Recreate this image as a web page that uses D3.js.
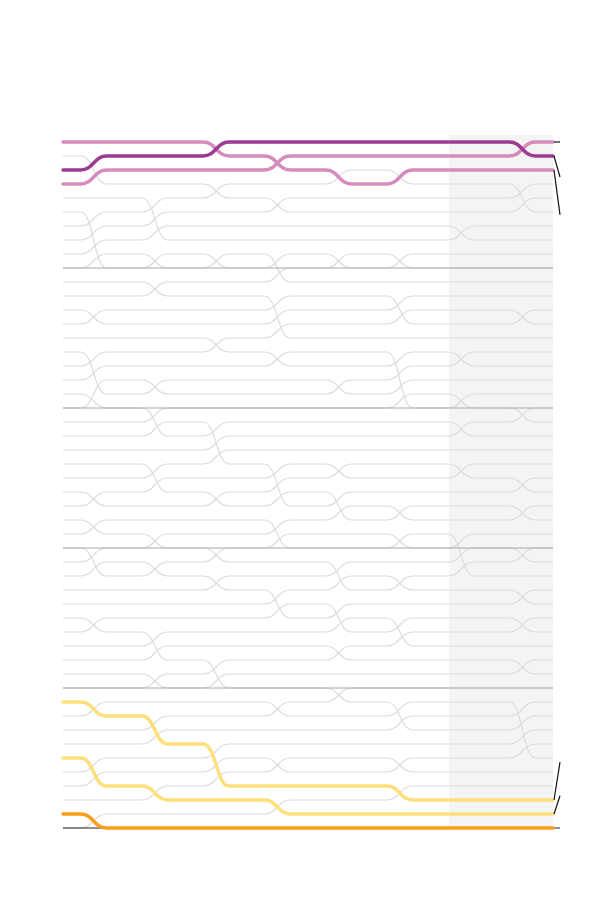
<!DOCTYPE html>
<html><head><meta charset="utf-8">
<script src="https://cdn.jsdelivr.net/npm/d3@7"></script>
<style>body{margin:0;background:#fff}</style></head>
<body><div id="c"></div>
<script>
const periods = [0,1,2,3,4,5,6,7,8];
const nRanks = 50;
// adjacent-position swaps observed at each transition (upper position, applied in order)
const swaps0 = [[2,3],[3,4],[6,7],[7,8],[8,9],[9,10],[13,14],[16,17],[17,18],[19,20],[18,19],[26,27],[28,29],[30,31],[31,32],[35,36],[41,42],[45,46],[46,47],[49,50]];
const swaps1 = [[5,6],[6,7],[7,8],[9,10],[11,12],[18,19],[20,21],[21,22],[24,25],[25,26],[29,30],[31,32],[36,37],[37,38],[39,40],[42,43],[43,44],[47,48]];
const swaps2 = [[1,2],[4,5],[9,10],[15,16],[21,22],[22,23],[23,24],[26,27],[30,31],[32,33],[38,39],[39,40],[44,45],[45,46],[46,47]];
const swaps3 = [[2,3],[5,6],[9,10],[10,11],[12,13],[13,14],[14,15],[16,17],[24,25],[25,26],[26,27],[28,29],[29,30],[33,34],[34,35],[41,42],[45,46],[48,49]];
const swaps4 = [[3,4],[9,10],[18,19],[24,25],[26,27],[27,28],[31,32],[32,33],[34,35],[35,36],[37,38],[40,41]];
const swaps5 = [[3,4],[9,10],[12,13],[13,14],[16,17],[17,18],[18,19],[19,20],[27,28],[29,30],[32,33],[35,36],[36,37],[41,42],[42,43],[45,46],[47,48]];
const swaps6 = [[7,8],[16,17],[19,20],[21,22],[24,25],[29,30],[30,31],[31,32]];
const swaps7 = [[1,2],[4,5],[5,6],[13,14],[20,21],[25,26],[27,28],[30,31],[33,34],[35,36],[38,39],[41,42],[42,43],[43,44],[44,45]];
const swapLists = [swaps0,swaps1,swaps2,swaps3,swaps4,swaps5,swaps6,swaps7];
// highlighted series, identified by starting rank
const highlightIds = [1,4,3,41,45,49];
const highlightColors = ["#d68bbd","#d68bbd","#9c3b91","#fde07b","#fde07b","#f99d1c"];
const separatorRanks = [10,20,30,40];

// build orders
const orders = [d3.range(1,nRanks+1)];
swapLists.forEach(sw=>{
  const o = orders[orders.length-1].slice();
  sw.forEach(([a])=>{const t=o[a-1];o[a-1]=o[a];o[a]=t;});
  orders.push(o);
});
const rankOf = id => orders.map(o=>o.indexOf(id)+1);

const W=608,H=900;
const svg=d3.select("#c").append("svg").attr("width",W).attr("height",H);
const x=d3.scaleLinear().domain([0,8]).range([63,553]);
const y=d3.scaleLinear().domain([1,50]).range([142,828]);
const hw=13;

svg.append("rect").attr("x",x(6.3)).attr("y",y(1)-7).attr("width",x(8)-x(6.3)).attr("height",y(50)-y(1)+7).attr("fill","#f4f4f4");

function pathFor(r){
  const p=d3.path();
  p.moveTo(x(0),y(r[0]));
  for(let i=0;i<8;i++){
    const m=(x(i)+x(i+1))/2;
    if(r[i]===r[i+1]){p.lineTo(x(i+1),y(r[i+1]));continue;}
    p.lineTo(m-hw,y(r[i]));
    p.bezierCurveTo(m,y(r[i]),m,y(r[i+1]),m+hw,y(r[i+1]));
    p.lineTo(x(i+1),y(r[i+1]));
  }
  return p.toString();
}
const all=d3.range(1,nRanks+1);
svg.append("g").selectAll("path").data(all.filter(d=>!highlightIds.includes(d))).join("path")
 .attr("d",d=>pathFor(rankOf(d))).attr("fill","none").attr("stroke","#dcdcdc").attr("stroke-width",1.2);
svg.append("g").selectAll("line").data(separatorRanks).join("line")
 .attr("x1",x(0)).attr("x2",x(8)).attr("y1",d=>y(d)).attr("y2",d=>y(d)).attr("stroke","#a8a8a8").attr("stroke-width",1);
svg.append("line").attr("x1",x(0)).attr("x2",560).attr("y1",y(50)).attr("y2",y(50)).attr("stroke","#222").attr("stroke-width",1);
svg.append("g").selectAll("path").data(highlightIds).join("path")
 .attr("d",d=>pathFor(rankOf(d))).attr("fill","none").attr("stroke",(d,i)=>highlightColors[i]).attr("stroke-width",3.5).attr("stroke-linecap","round");
// leader lines
const leaders=[[1,1],[2,3.5],[3,6.2],[48,45.3],[49,47.7]];
svg.append("g").selectAll("line").data(leaders).join("line")
 .attr("x1",x(8)+1).attr("y1",d=>y(d[0])).attr("x2",560).attr("y2",d=>y(d[1])).attr("stroke","#111").attr("stroke-width",1.2);
</script></body></html>
